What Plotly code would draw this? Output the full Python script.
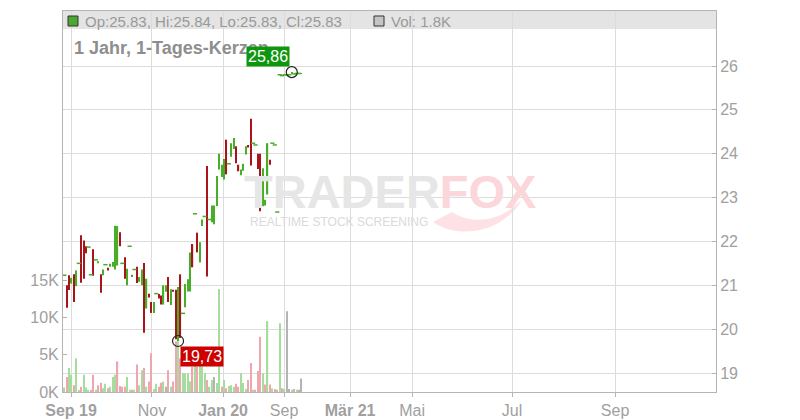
import plotly.graph_objects as go

# ---- data ----
opens = [21.23, 21.00, 21.23, 21.04, 21.25, 20.98, 21.50, 22.14, 22.02, 21.89,
         21.87, 21.24, 21.82, 21.58, 21.50, 21.25, 21.23, 21.47, 21.40, 21.42,
         21.42, 21.36, 21.45, 22.21, 21.50, 21.64, 21.00, 21.89, 21.19, 21.36,
         21.42, 21.08, 21.00, 21.51, 20.47, 20.81, 20.62, 20.37, 20.81, 20.80,
         20.77, 20.56, 20.85, 21.19, 20.55, 20.90, 20.90, 19.73, 21.25, 20.36,
         20.50, 20.86, 20.86, 21.94, 22.63, 22.20, 21.52, 22.35, 22.57, 23.72,
         22.50, 22.44, 22.39, 22.81, 23.64, 23.47, 23.41, 24.32, 23.77, 23.93,
         24.11, 24.17, 23.75, 23.51, 23.61, 23.98, 24.20, 24.80, 24.24, 24.20,
         24.00, 24.00, 22.80, 22.82, 23.07, 23.86, 24.24, 24.20, 22.67, 25.80,
         25.78, 25.80, 25.80, 25.80, 25.82, 25.82, 25.83, 25.83, 25.83]
highs = [21.23, 21.00, 21.23, 21.17, 21.25, 21.34, 21.50, 22.14, 22.02, 21.89,
         21.87, 21.24, 21.82, 21.58, 21.55, 21.25, 21.36, 21.47, 21.40, 21.49,
         21.53, 22.36, 22.35, 22.21, 21.50, 21.64, 21.38, 21.89, 21.24, 21.36,
         21.42, 21.19, 21.36, 21.51, 21.15, 20.81, 20.62, 20.62, 20.81, 20.80,
         20.77, 21.00, 21.00, 21.19, 20.91, 20.90, 20.90, 20.96, 21.25, 20.36,
         21.03, 21.14, 21.75, 21.94, 22.63, 22.20, 21.98, 22.50, 22.57, 23.72,
         22.50, 22.82, 22.82, 23.49, 24.00, 23.75, 23.88, 24.32, 23.77, 24.24,
         24.36, 24.17, 23.75, 23.64, 23.77, 24.17, 24.20, 24.80, 24.24, 24.20,
         24.00, 24.00, 23.67, 22.95, 24.24, 23.86, 24.24, 24.20, 22.67, 25.80,
         25.78, 25.80, 25.80, 25.80, 25.86, 25.82, 25.83, 25.83, 25.84]
lows = [21.23, 20.49, 20.89, 21.04, 20.62, 20.98, 21.50, 21.06, 21.15, 21.73,
        21.87, 21.24, 21.22, 21.58, 21.50, 20.83, 21.23, 21.47, 21.34, 21.42,
        21.42, 21.36, 21.45, 21.89, 21.50, 21.15, 21.00, 21.89, 21.19, 21.36,
        21.05, 21.08, 21.00, 19.92, 20.47, 20.72, 20.37, 20.37, 20.81, 20.70,
        20.56, 20.56, 20.85, 20.62, 20.55, 20.85, 19.77, 19.73, 19.80, 20.36,
        20.50, 20.86, 20.86, 21.41, 22.63, 21.75, 21.52, 22.35, 22.57, 21.20,
        22.50, 22.44, 22.39, 22.81, 23.64, 23.47, 23.41, 23.53, 23.77, 23.93,
        24.11, 23.78, 23.60, 23.51, 23.61, 23.98, 24.14, 23.73, 24.24, 24.20,
        23.65, 22.69, 22.80, 22.82, 23.07, 23.75, 24.24, 24.20, 22.67, 25.80,
        25.78, 25.80, 25.80, 25.80, 25.82, 25.82, 25.83, 25.83, 25.83]
closes = [21.23, 20.49, 20.89, 21.17, 20.62, 21.34, 21.50, 21.06, 21.15, 21.73,
          21.87, 21.24, 21.22, 21.58, 21.55, 20.83, 21.36, 21.47, 21.34, 21.49,
          21.53, 22.36, 22.35, 21.89, 21.50, 21.15, 21.38, 21.89, 21.24, 21.36,
          21.05, 21.19, 21.36, 19.92, 21.15, 20.72, 20.37, 20.62, 20.81, 20.70,
          20.56, 21.00, 21.00, 20.62, 20.91, 20.85, 19.77, 20.96, 19.80, 20.36,
          21.03, 21.14, 21.75, 21.41, 22.63, 21.75, 21.98, 22.50, 22.57, 21.20,
          22.50, 22.82, 22.82, 23.49, 24.00, 23.75, 23.88, 23.53, 23.77, 24.24,
          24.36, 23.78, 23.60, 23.64, 23.77, 24.17, 24.14, 23.73, 24.24, 24.20,
          23.65, 22.69, 23.67, 22.95, 24.24, 23.75, 24.24, 24.20, 22.67, 25.80,
          25.78, 25.80, 25.80, 25.80, 25.84, 25.82, 25.83, 25.83, 25.83]
volumes = [600, 2000, 3200, 2300, 900, 4500, 200, 700, 2300, 600,
           300, 200, 2300, 300, 900, 1250, 500, 1100, 500, 700,
           2000, 2300, 4100, 800, 700, 700, 2000, 300, 300, 300,
           3700, 900, 2900, 3200, 700, 1400, 5200, 400, 1100, 700,
           1250, 1400, 700, 2900, 700, 1400, 6800, 6800, 4500, 2500,
           2500, 2500, 1400, 3400, 3800, 3400, 3900, 3400, 2500, 1600,
           700, 1600, 2000, 1200, 13800, 700, 1600, 500, 800, 900,
           700, 1100, 700, 2500, 1200, 400, 1600, 3900, 300, 300,
           2800, 7400, 2500, 1000, 9500, 1000, 500, 400, 300, 9200,
           500, 400, 10800, 400, 300, 400, 300, 300, 1800]
session = list(range(len(closes)))  # trading-session index

tick_pos = [2.77, 36.2, 65.6, 90.8, 118.1, 143.7, 185.0, 227.6]
tick_labels = ["<b>Sep 19</b>", "Nov", "<b>Jan 20</b>", "Sep", "<b>Mär 21</b>", "Mai", "Jul", "Sep"]
price_ticks = [19, 20, 21, 22, 23, 24, 25, 26]
vol_ticks = [0, 5000, 10000, 15000]
vol_labels = ["0K", "5K", "10K", "15K"]
title_text = "1 Jahr, 1-Tages-Kerzen"

# ---- styles ----
GREEN = "#47ae28"
RED = "#a8141a"
VGREEN = "#a6dc9e"
VRED = "#f0a6ae"
VGRAY = "#b4b4b4"
GRID = "#dcdcdc"
AXIS = "#b4b4b4"
TXT = "#a0a0a0"
FONT = "Liberation Sans, Arial, sans-serif"

vol_colors = []
for i, c in enumerate(closes):
    if i == 0 or c > closes[i - 1]:
        vol_colors.append(VGREEN)
    elif c < closes[i - 1]:
        vol_colors.append(VRED)
    else:
        vol_colors.append(VGRAY)

candle_colors = [GREEN if c >= o else RED for o, c in zip(opens, closes)]
candle_span = [h - l for h, l in zip(highs, lows)]
doji_x = [s for s, h, l in zip(session, highs, lows) if h == l]
doji_y = [h for h, l in zip(highs, lows) if h == l]

fig = go.Figure()
fig.add_trace(go.Bar(x=session, y=volumes, width=0.5, marker=dict(color=vol_colors, line=dict(width=0)),
                     yaxis="y", hoverinfo="skip"))
fig.add_trace(go.Bar(x=session, y=candle_span, base=lows, width=0.5, yaxis="y2",
                     marker=dict(color=candle_colors, line=dict(width=0))))
fig.add_trace(go.Scatter(x=doji_x, y=doji_y, yaxis="y2", mode="markers",
                         marker=dict(symbol="line-ew", size=3, line=dict(color=GREEN, width=1.5))))

imax = max(range(len(highs)), key=lambda i: highs[i])
imin = min(range(len(lows)), key=lambda i: lows[i])
fig.add_trace(go.Scatter(x=[session[imax], session[imin]], y=[highs[imax], lows[imin]], yaxis="y2",
                         mode="markers",
                         marker=dict(symbol="circle-open", size=11, color="#222222", line=dict(width=1.2))))

def de(v):
    return f"{v:.2f}".replace(".", ",")

ann = [
    dict(x=0, y=1, xref="paper", yref="paper", xshift=9, yshift=-37, xanchor="left", yanchor="middle",
         text=f"<b>{title_text}</b>", showarrow=False, font=dict(family=FONT, size=18, color="#8e8e8e")),
    dict(x=session[imax], y=highs[imax], xref="x", yref="y2", text=de(highs[imax]), showarrow=False,
         xanchor="right", yanchor="bottom", xshift=-2, yshift=5, bgcolor="#0f960f", borderpad=1,
         font=dict(family=FONT, size=16, color="white")),
    dict(x=session[imin], y=lows[imin], xref="x", yref="y2", text=de(lows[imin]), showarrow=False,
         xanchor="left", yanchor="top", xshift=2, yshift=-5, bgcolor="#cc0000", borderpad=1,
         font=dict(family=FONT, size=16, color="white")),
    dict(x=0, y=1, xref="paper", yref="paper", xshift=20, yshift=-10, xanchor="left", yanchor="middle",
         text=f"Op:{opens[-1]:.2f}, Hi:{highs[-1]:.2f}, Lo:{lows[-1]:.2f}, Cl:{closes[-1]:.2f}",
         showarrow=False, font=dict(family=FONT, size=15, color="#999999")),
    dict(x=0, y=1, xref="paper", yref="paper", xshift=326, yshift=-10, xanchor="left", yanchor="middle",
         text=f"Vol: {volumes[-1] / 1000:.1f}K", showarrow=False, font=dict(family=FONT, size=15, color="#999999")),
    # watermark
    dict(x=0.5008, y=0.5250, xref="paper", yref="paper", showarrow=False, xanchor="center", yanchor="middle",
         text="<span style='color:#e6e6e6'>TRADER</span><span style='color:#fbd6da'>FOX</span>",
         font=dict(family=FONT, size=47, color="#e6e6e6", weight="bold")),
    dict(x=0.4227, y=0.447, xref="paper", yref="paper", showarrow=False, xanchor="center", yanchor="middle",
         text="REALTIME STOCK SCREENING", font=dict(family=FONT, size=12, color="#dadada")),
]

def px(x, y):
    return (x - 63) / 653, (392 - y) / 381

p = [px(433, 222), px(455, 238), px(500, 236), px(522, 200), px(512, 208), px(492, 224), px(466, 222), px(452, 212)]
tail_path = (f"M {p[0][0]},{p[0][1]} C {p[1][0]},{p[1][1]} {p[2][0]},{p[2][1]} {p[3][0]},{p[3][1]} "
             f"L {p[4][0]},{p[4][1]} C {p[5][0]},{p[5][1]} {p[6][0]},{p[6][1]} {p[7][0]},{p[7][1]} Z")

shapes = [
    dict(type="rect", xref="paper", yref="paper", x0=0, x1=1, y0=1 - 18 / 381, y1=1,
         fillcolor="#e4e4e4", line=dict(width=0), layer="below"),
    dict(type="path", xref="paper", yref="paper", path=tail_path, fillcolor="#fde1e4",
         line=dict(width=0), layer="below"),
    dict(type="rect", xref="paper", yref="paper", xsizemode="pixel", ysizemode="pixel", xanchor=0, yanchor=1,
         x0=5, x1=15, y0=-15, y1=-5, fillcolor="#4aa832", line=dict(color="#333333", width=1)),
    dict(type="rect", xref="paper", yref="paper", xsizemode="pixel", ysizemode="pixel", xanchor=0, yanchor=1,
         x0=311, x1=321, y0=-15, y1=-5, fillcolor="#c4c4c4", line=dict(color="#333333", width=1)),
]

fig.update_layout(
    width=800, height=420, autosize=False,
    margin=dict(l=63, r=84, t=11, b=28, autoexpand=False),
    paper_bgcolor="white", plot_bgcolor="white",
    showlegend=False, barmode="overlay",
    font=dict(family=FONT, size=16, color=TXT),
    annotations=ann, shapes=shapes,
    xaxis=dict(range=[-0.54, 269.3], tickvals=tick_pos, ticktext=tick_labels, automargin=False,
               showgrid=True, gridcolor=GRID, gridwidth=1, zeroline=False,
               showline=True, linecolor=AXIS, mirror=True,
               ticks="outside", ticklen=4, tickcolor=AXIS,
               tickfont=dict(family=FONT, size=16, color=TXT)),
    yaxis=dict(side="left", range=[0, 51030], tickvals=vol_ticks, ticktext=vol_labels, automargin=False,
               showgrid=False, zeroline=False, showline=True, linecolor=AXIS,
               ticks="inside", ticklen=4, tickcolor=AXIS,
               tickfont=dict(family=FONT, size=16, color=TXT)),
    yaxis2=dict(overlaying="y", side="right", range=[18.567, 27.254], tickvals=price_ticks, automargin=False,
                showgrid=True, gridcolor=GRID, gridwidth=1, zeroline=False,
                showline=True, linecolor=AXIS,
                ticks="inside", ticklen=4, tickcolor=AXIS,
                tickfont=dict(family=FONT, size=16, color=TXT)),
)

fig.write_html("out.html", config={"displayModeBar": False},
               post_script="document.body.style.margin='0';")
